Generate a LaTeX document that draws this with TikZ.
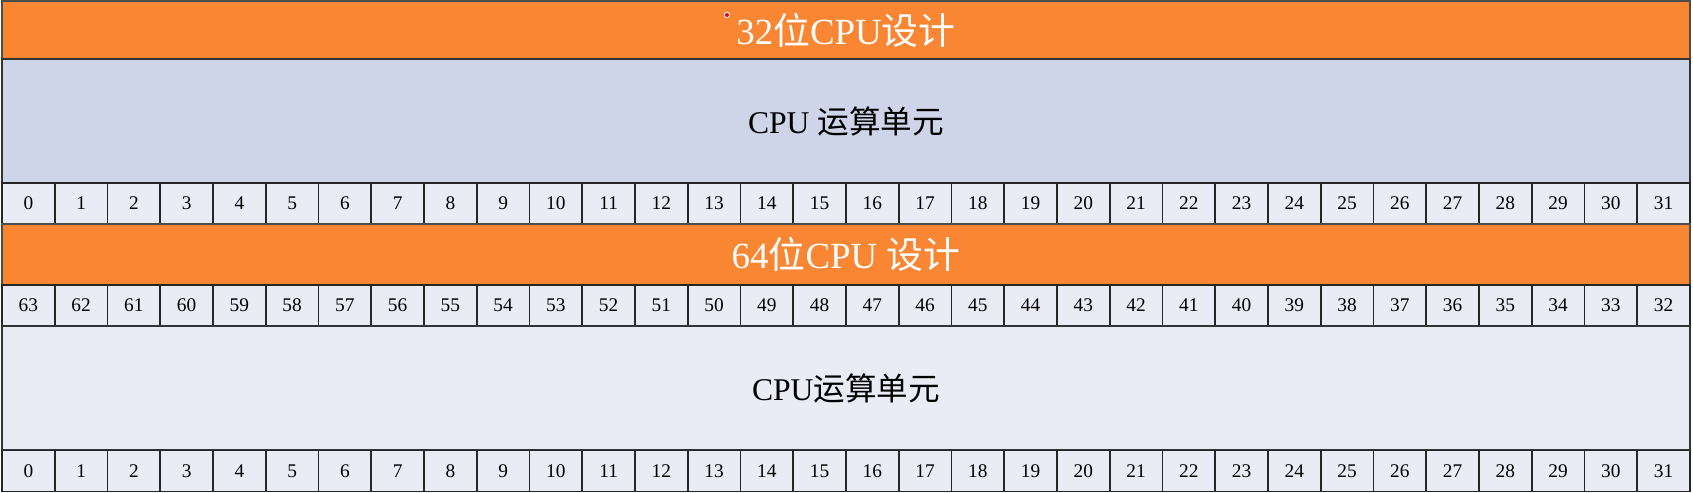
\documentclass[tikz,border=0pt]{standalone}
\usepackage{fontspec}
\setmainfont{Liberation Serif}
\newfontfamily\cjk{Noto Sans CJK SC}
\definecolor{barorange}{RGB}{248,134,51}
\definecolor{alublue}{RGB}{207,213,232}
\definecolor{cellblue}{RGB}{233,235,245}

\begin{document}
\begin{tikzpicture}[x=0.02cm,y=-0.02cm,
    bar/.style={draw=black!70,line width=0.9pt,fill=barorange,inner sep=0pt,
      minimum width=33.76cm,text=white,font=\fontsize{21}{21}\selectfont},
    alu/.style={draw=black!80,line width=0.9pt,inner sep=0pt,
      minimum width=33.76cm,minimum height=2.48cm,font=\fontsize{18}{18}\selectfont},
    bit/.style={draw=black!85,line width=1.1pt,fill=cellblue,inner sep=0pt,
      minimum width=1.055cm,minimum height=0.82cm,font=\fontsize{11}{11}\selectfont}]
  \useasboundingbox (0,0) rectangle (1693,493);
  % 32-bit design
  \node[bar,minimum height=1.16cm] (t32) at (846,30) {32{\cjk 位}CPU{\cjk 设计}};
  \node[circle,fill=red,draw=white,line width=0.5pt,inner sep=1.1pt] (dot) at (727,15) {};
  \node[alu,fill=alublue] (alu32) at (846,121) {CPU {\cjk 运算单元}};
  \foreach \i in {0,...,31}
    \node[bit] (b\i) at ({2+52.75*(\i+0.5)},203.5) {\i};
  % 64-bit design
  \node[bar,minimum height=1.22cm] (t64) at (846,254.5) {64{\cjk 位}CPU {\cjk 设计}};
  \foreach \i in {0,...,31} {
    \pgfmathtruncatemacro\hb{63-\i}
    \node[bit] (h\i) at ({2+52.75*(\i+0.5)},305.5) {\hb};
  }
  \node[alu,fill=cellblue] (alu64) at (846,388) {CPU{\cjk 运算单元}};
  \foreach \i in {0,...,31}
    \node[bit] (l\i) at ({2+52.75*(\i+0.5)},471) {\i};
\end{tikzpicture}
\end{document}
